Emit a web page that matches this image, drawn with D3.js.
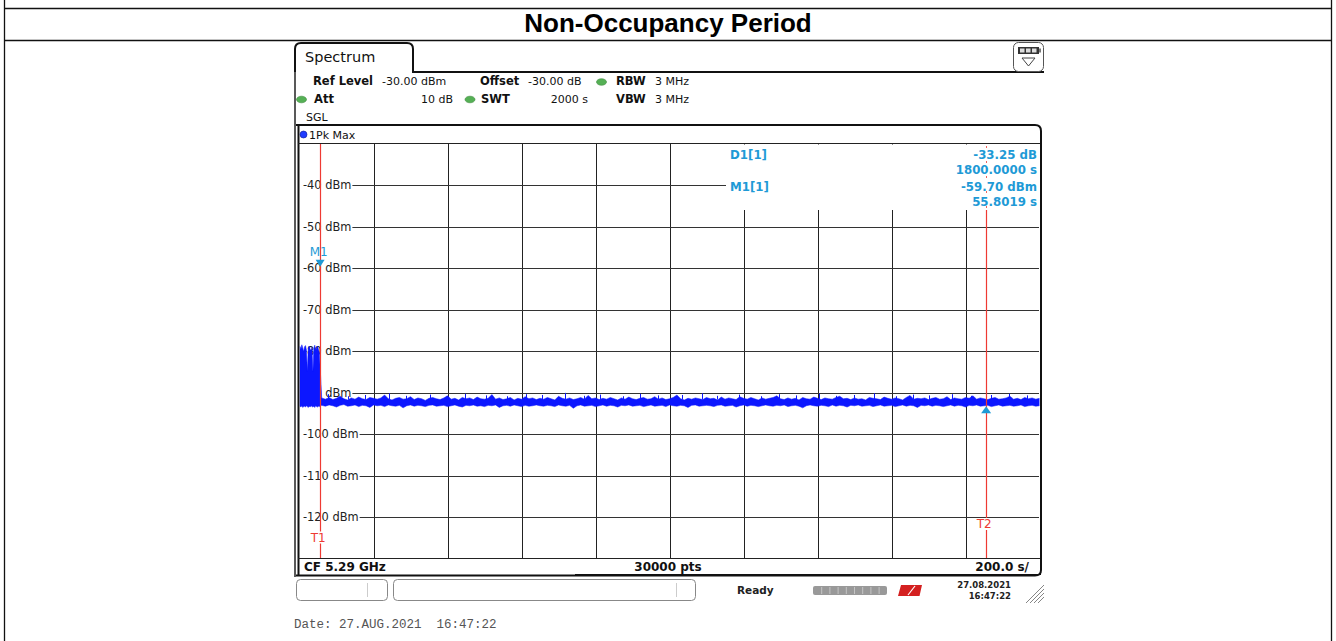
<!DOCTYPE html>
<html><head><meta charset="utf-8">
<script src="https://cdn.jsdelivr.net/npm/d3@7"></script>
<style>body{margin:0;background:#fff}svg{display:block}</style>
</head><body><svg id="c" width="1336" height="641"></svg>
<script>
// ---------- data ----------
const pageTitle = "Non-Occupancy Period";
const levelTicks = [-40,-50,-60,-70,-80,-90,-100,-110,-120];
const timeTicks = [200,400,600,800,1000,1200,1400,1600,1800];
const levelDomain = [-130,-30];
const timeDomain = [0,2000];
const headerRow1 = ["Ref Level","-30.00 dBm","Offset","-30.00 dB","RBW","3 MHz"];
const headerRow2 = ["Att","10 dB","SWT","2000 s","VBW","3 MHz"];
const footerTexts = ["CF 5.29 GHz","30000 pts","200.0 s/"];
const statusTexts = ["Ready","27.08.2021","16:47:22"];
const dateLine = "Date: 27.AUG.2021  16:47:22";
const markerM1 = [55.8019, -59.70];   // time s, level dBm
const deltaD1 = [1800, -33.25];       // delta time s, delta level dB
// trace envelope (max / min per bin), burst part in 2.5 s bins
const burstBin = 2.5;
const burstMax = [-78.9,-79.6,-78.5,-79.2,-80.1,-79.0,-78.7,-79.8,-84.9,-79.3,-78.8,-79.5,-80.0,-79.1,-85.0,-79.4,-78.6,-79.9,-79.2,-78.8,-79.6,-80.3];
const burstMin = [-93.3,-93.5,-93.2,-93.6,-93.4,-93.3,-93.5,-93.2,-93.4,-93.6,-93.3,-93.5,-93.2,-93.4,-93.5,-93.3,-93.6,-93.2,-93.4,-93.5,-93.3,-93.4];
// noise floor part in 10 s bins starting at 55 s
const floorStart = 55, floorBin = 10;
const floorMax = [
-91.3,-91.6,-91.2,-91.7,-91.4,-90.9,-91.5,-91.8,-91.3,-91.6,-91.1,-91.5,-91.7,-91.2,-91.4,
-91.6,-91.3,-90.6,-91.5,-91.8,-91.4,-91.2,-91.6,-91.5,-91.0,-91.7,-91.3,-91.5,-91.9,-91.4,
-91.2,-91.5,-91.7,-91.3,-90.8,-91.6,-91.4,-91.8,-91.2,-91.5,-91.3,-91.7,-91.1,-91.5,-91.6,
-91.4,-90.5,-91.6,-91.3,-91.7,-91.5,-91.2,-91.8,-91.4,-91.6,-91.0,-91.5,-91.3,-91.7,-91.4,
-91.6,-91.2,-91.5,-91.8,-90.9,-91.4,-91.6,-91.3,-91.7,-91.5,-91.2,-91.6,-90.7,-91.5,-91.3,
-91.7,-91.4,-91.6,-91.2,-91.5,-91.8,-91.3,-91.6,-91.1,-91.5,-91.7,-91.4,-91.2,-91.6,-91.5,
-91.0,-91.6,-91.3,-91.7,-91.5,-91.2,-90.6,-91.5,-91.8,-91.4,-91.6,-91.3,-91.5,-91.7,-91.2,
-91.5,-91.4,-91.8,-91.1,-91.6,-91.3,-91.5,-91.7,-91.0,-91.4,-91.6,-91.2,-91.5,-91.8,-91.3,
-91.6,-91.4,-91.2,-90.8,-91.5,-91.7,-91.3,-91.6,-91.4,-91.8,-91.2,-91.5,-91.6,-91.1,-91.4,
-91.7,-91.3,-91.5,-91.6,-91.2,-90.9,-91.5,-91.4,-91.7,-91.3,-91.6,-91.5,-91.8,-91.2,-91.4,
-91.5,-91.7,-91.1,-91.4,-91.6,-91.3,-91.5,-91.8,-91.2,-90.7,-91.6,-91.4,-91.5,-91.3,-91.7,
-91.4,-91.2,-91.6,-91.5,-91.0,-91.7,-91.3,-91.5,-91.6,-91.2,-91.4,-90.8,-91.6,-91.3,-91.5,
-91.7,-91.4,-91.2,-91.6,-91.5,-91.3,-90.9,-91.6,-91.4,-91.7,-91.2,-91.5,-91.3,-91.6,-91.4];
const floorMin = [
-93.1,-93.3,-93.0,-93.2,-93.5,-93.1,-92.9,-93.3,-93.2,-93.0,-93.4,-93.1,-93.2,-93.6,-93.0,
-93.2,-93.1,-93.4,-93.0,-93.2,-93.3,-93.1,-93.7,-93.2,-93.0,-93.3,-93.1,-93.2,-93.4,-93.1,
-93.0,-93.3,-93.2,-93.1,-93.4,-93.2,-93.0,-93.3,-93.5,-93.1,-93.2,-93.0,-93.3,-93.2,-93.4,
-93.1,-93.2,-93.0,-93.6,-93.2,-93.1,-93.3,-93.0,-93.2,-93.4,-93.1,-93.3,-93.2,-93.0,-93.2,
-93.3,-93.1,-93.2,-93.4,-93.0,-93.2,-93.3,-93.1,-93.8,-93.2,-93.0,-93.3,-93.2,-93.1,-93.4,
-93.2,-93.0,-93.3,-93.1,-93.2,-93.5,-93.1,-93.2,-93.0,-93.3,-93.2,-93.1,-93.4,-93.2,-93.0,
-93.3,-93.2,-93.1,-93.4,-93.0,-93.2,-93.3,-93.1,-93.2,-93.6,-93.1,-93.0,-93.3,-93.2,-93.1,
-93.2,-93.4,-93.1,-93.0,-93.3,-93.2,-93.1,-93.5,-93.2,-93.0,-93.3,-93.1,-93.2,-93.4,-93.2,
-93.0,-93.2,-93.3,-93.1,-93.2,-93.0,-93.4,-93.2,-93.1,-93.3,-93.7,-93.2,-93.0,-93.2,-93.3,
-93.1,-93.2,-93.4,-93.0,-93.3,-93.1,-93.2,-93.5,-93.1,-93.2,-93.0,-93.3,-93.2,-93.1,-93.4,
-93.2,-93.0,-93.3,-93.2,-93.1,-93.4,-93.2,-93.0,-93.3,-93.1,-93.2,-93.6,-93.1,-93.2,-93.0,
-93.3,-93.1,-93.2,-93.4,-93.2,-93.0,-93.3,-93.1,-93.2,-93.5,-93.1,-93.2,-93.0,-93.3,-93.2,
-93.1,-93.4,-93.2,-93.0,-93.3,-93.2,-93.1,-93.3,-93.2,-93.0,-93.4,-93.2,-93.1,-93.3,-93.2];
// thin single peaks above the noise band
const spikeTimes = [78,131,176,243,288,352,397,446,503,561,612,655,718,769,812,874,921,968,1033,1087,1129,1188,1246,1297,1342,1405,1451,1498,1553,1611,1657,1702,1764,1815,1870,1918,1967];
const spikeLevels = [-90.4,-90.9,-90.6,-90.2,-90.8,-90.5,-91.0,-90.3,-90.7,-90.9,-90.4,-90.6,-90.1,-90.8,-90.5,-90.9,-90.3,-90.7,-90.6,-90.2,-90.8,-90.5,-90.9,-90.4,-90.7,-90.3,-90.8,-90.6,-90.2,-90.9,-90.5,-90.7,-90.4,-90.8,-90.6,-90.3,-90.7];

// ---------- drawing ----------
const svg = d3.select("#c");
const F = "'DejaVu Sans', Verdana, sans-serif";
const markerBlue = "#1e9ad6", red = "#ee3a33", traceBlue = "#0c17ff";
const hy = s => s.replace(/\u2212/g,"-");

// page table borders
const tb = svg.append("g").attr("stroke","#111").attr("stroke-width",1.3);
tb.append("line").attr("x1",4.5).attr("x2",4.5).attr("y1",0).attr("y2",641);
tb.append("line").attr("x1",1331.5).attr("x2",1331.5).attr("y1",0).attr("y2",641);
tb.append("line").attr("x1",4).attr("x2",1332).attr("y1",8.5).attr("y2",8.5);
tb.append("line").attr("x1",4).attr("x2",1332).attr("y1",40.5).attr("y2",40.5);
svg.append("text").attr("x",668).attr("y",32).attr("text-anchor","middle")
  .attr("font-family","'Liberation Sans', Arial, sans-serif").attr("font-weight","bold")
  .attr("font-size",26).attr("fill","#000").text(pageTitle);

// instrument tab & frames
svg.append("path").attr("d","M295,72 V49 Q295,43 301,43 H407 Q413,43 413,49 V72 H1044")
  .attr("fill","none").attr("stroke","#111").attr("stroke-width",2);
svg.append("line").attr("x1",295).attr("x2",295).attr("y1",72).attr("y2",577).attr("stroke","#222").attr("stroke-width",1.5);
svg.append("text").attr("x",305).attr("y",62).attr("font-family",F).attr("font-size",14.5).attr("fill","#111").text("Spectrum");

// top-right icon
const ic = svg.append("g");
ic.append("rect").attr("x",1013.5).attr("y",42.5).attr("width",30).attr("height",29).attr("rx",5).attr("fill","#fff").attr("stroke","#555");
ic.append("rect").attr("x",1018).attr("y",47).attr("width",21).attr("height",7).attr("fill","#333");
[1020,1026,1032].forEach(x=>ic.append("rect").attr("x",x).attr("y",48.5).attr("width",4.5).attr("height",4).attr("fill","#ddd"));
ic.append("rect").attr("x",1039).attr("y",48.5).attr("width",2).attr("height",4).attr("fill","#777");
ic.append("path").attr("d","M1022,58 H1035 L1028.5,66 Z").attr("fill","none").attr("stroke","#444");

// header info
const hb = svg.append("g").attr("font-family",F).attr("fill","#111");
function green(x,y){ hb.append("ellipse").attr("cx",x).attr("cy",y).attr("rx",5).attr("ry",3.3).attr("fill","#55b055").attr("stroke","#3d8a3d").attr("stroke-width",0.6); }
function txt(x,y,s,bold,anchor){ hb.append("text").attr("x",x).attr("y",y).attr("font-size",bold?11.5:11)
  .attr("font-weight",bold?"bold":"normal").attr("text-anchor",anchor||"start").text(s); }
txt(313,85,headerRow1[0],true); txt(382,85,headerRow1[1]); txt(480,85,headerRow1[2],true);
txt(528,85,headerRow1[3]); green(601.5,82); txt(616,85,headerRow1[4],true); txt(655,85,headerRow1[5]);
green(301.5,99.5); txt(314,103,headerRow2[0],true); txt(453,103,headerRow2[1],false,"end"); green(470,99.5);
txt(481,103,headerRow2[2],true); txt(588,103,headerRow2[3],false,"end"); txt(616,103,headerRow2[4],true); txt(655,103,headerRow2[5]);
txt(306,121,"SGL");

// diagram frame
svg.append("path").attr("d","M296,125 H1035 Q1041,125 1041,131 V570 Q1041,575.5 1035,575.5 H296")
  .attr("fill","none").attr("stroke","#111").attr("stroke-width",2);
svg.append("line").attr("x1",298.5).attr("x2",298.5).attr("y1",125).attr("y2",576).attr("stroke","#111").attr("stroke-width",2);
svg.append("line").attr("x1",575).attr("x2",1041).attr("y1",574.5).attr("y2",574.5).attr("stroke","#111").attr("stroke-width",1);
svg.append("line").attr("x1",298).attr("x2",1040).attr("y1",143.5).attr("y2",143.5).attr("stroke","#222").attr("stroke-width",1.2);
svg.append("line").attr("x1",298).attr("x2",1040).attr("y1",558.5).attr("y2",558.5).attr("stroke","#222").attr("stroke-width",1.2);
svg.append("circle").attr("cx",303.5).attr("cy",134.5).attr("r",3.5).attr("fill","#1f3cff").attr("stroke","#0a1a90").attr("stroke-width",0.6);
svg.append("text").attr("x",309).attr("y",138.5).attr("font-family",F).attr("font-size",11).attr("fill","#111").text("1Pk Max");

// scales
const x = d3.scaleLinear().domain(timeDomain).range([299.5,1039.5]);
const y = d3.scaleLinear().domain(levelDomain).range([558.5,143.5]);
const px = v => Math.round(v)+0.5;

// grid
const grid = svg.append("g");
grid.selectAll("line.v").data(timeTicks).join("line").attr("class","v")
  .attr("x1",d=>px(x(d))).attr("x2",d=>px(x(d))).attr("y1",144).attr("y2",558)
  .attr("stroke","#222").attr("stroke-width",1);
const lab = grid.selectAll("g.h").data(levelTicks).join("g").attr("class","h");
lab.append("text").attr("x",303).attr("y",d=>y(d)).attr("dy","0.36em")
  .attr("font-family",F).attr("font-size",11.4).attr("fill","#222").text(d=>d+" dBm");
lab.each(function(d){
  const g = d3.select(this); const w = g.select("text").node().getComputedTextLength();
  g.append("line").attr("x1",303+w+1).attr("x2",1039).attr("y1",px(y(d))).attr("y2",px(y(d)))
    .attr("stroke","#333").attr("stroke-width",1);
});

// trace
const traceRows = [];
burstMax.forEach((v,i)=>traceRows.push({t:burstBin*(i+0.5),hi:v,lo:burstMin[i]}));
floorMax.forEach((v,i)=>traceRows.push({t:floorStart+floorBin*(i+0.5),hi:v,lo:floorMin[i]}));
svg.append("clipPath").attr("id","plot").append("rect").attr("x",299.5).attr("y",144).attr("width",740).attr("height",414);
const tr = svg.append("g").attr("clip-path","url(#plot)");
tr.append("path").datum(traceRows)
  .attr("d",d3.area().x(d=>x(d.t)).y0(d=>y(d.lo)).y1(d=>y(d.hi)))
  .attr("fill",traceBlue).attr("stroke",traceBlue).attr("stroke-width",0.5);
tr.selectAll("line.sp").data(spikeTimes).join("line").attr("class","sp")
  .attr("x1",d=>px(x(d))).attr("x2",d=>px(x(d))).attr("y1",y(-91.7)).attr("y2",(d,i)=>y(spikeLevels[i]))
  .attr("stroke",traceBlue).attr("stroke-width",1);

// markers
const t1 = markerM1[0], t2 = markerM1[0]+deltaD1[0];
const d1Level = markerM1[1]+deltaD1[1];
// marker info box
svg.append("rect").attr("x",726).attr("y",144.5).attr("width",313).attr("height",65.5).attr("fill","#fff");
// T lines
[t1,t2].forEach(t=>svg.append("line").attr("x1",px(x(t))).attr("x2",px(x(t))).attr("y1",210).attr("y2",558)
  .attr("stroke",red).attr("stroke-width",1.2));
svg.append("line").attr("x1",px(x(t1))).attr("x2",px(x(t1))).attr("y1",144).attr("y2",210).attr("stroke",red).attr("stroke-width",1.2);
svg.append("line").attr("x1",px(x(t2))).attr("x2",px(x(t2))).attr("y1",144).attr("y2",210)
  .attr("stroke",red).attr("stroke-width",1).attr("stroke-dasharray","2,13").attr("stroke-dashoffset",-17).attr("opacity",0.8);
function redLabel(t,cy,s){
  svg.append("rect").attr("x",x(t)-9).attr("y",cy-6).attr("width",17).attr("height",12).attr("fill","#fff");
  svg.append("text").attr("x",x(t)-2).attr("y",cy).attr("dy","0.36em").attr("text-anchor","middle")
    .attr("font-family",F).attr("font-size",12).attr("fill",red).text(s);
}
redLabel(t1,537.5,"T1"); redLabel(t2,524,"T2");
// M1 triangle
const m1x = x(t1), m1y = y(markerM1[1]);
svg.append("path").attr("d",`M${m1x-4.5},${m1y-7} H${m1x+4.5} L${m1x},${m1y} Z`).attr("fill",markerBlue);
svg.append("text").attr("x",m1x-1.5).attr("y",252).attr("dy","0.36em").attr("text-anchor","middle")
  .attr("font-family",F).attr("font-size",12).attr("fill",markerBlue).text("M1");
// D1 triangle
const d1x = x(t2), d1y = y(d1Level)+1.5;
svg.append("path").attr("d",`M${d1x-5},${d1y+7} H${d1x+5} L${d1x},${d1y} Z`).attr("fill",markerBlue);
// marker text
const mt = svg.append("g").attr("font-family",F).attr("font-weight","bold").attr("font-size",11.8).attr("fill",markerBlue);
const f2 = v => hy(d3.format(".2f")(v)), f4 = v => hy(d3.format(".4f")(v));
mt.append("text").attr("x",730).attr("y",155).attr("dy","0.36em").text("D1[1]");
mt.append("text").attr("x",730).attr("y",187).attr("dy","0.36em").text("M1[1]");
[[155,f2(deltaD1[1])+" dB"],[170,f4(deltaD1[0])+" s"],[187,f2(markerM1[1])+" dBm"],[202,f4(markerM1[0])+" s"]]
  .forEach(([yy,s])=>mt.append("text").attr("x",1037).attr("y",yy).attr("dy","0.36em").attr("text-anchor","end").text(s));

// footer line of diagram
const ft = svg.append("g").attr("font-family",F).attr("font-weight","bold").attr("font-size",12).attr("fill","#111");
ft.append("text").attr("x",304).attr("y",571).text(footerTexts[0]);
ft.append("text").attr("x",668).attr("y",571).attr("text-anchor","middle").text(footerTexts[1]);
ft.append("text").attr("x",1029).attr("y",571).attr("text-anchor","end").text(footerTexts[2]);

// status bar
const sb = svg.append("g");
sb.append("rect").attr("x",296.5).attr("y",579.5).attr("width",91).attr("height",21).attr("rx",4).attr("fill","#fff").attr("stroke","#888");
sb.append("rect").attr("x",393.5).attr("y",579.5).attr("width",302).attr("height",21).attr("rx",4).attr("fill","#fff").attr("stroke","#888");
sb.append("line").attr("x1",367.5).attr("x2",367.5).attr("y1",583).attr("y2",597).attr("stroke","#ccc");
sb.append("line").attr("x1",676.5).attr("x2",676.5).attr("y1",583).attr("y2",597).attr("stroke","#ccc");
sb.append("text").attr("x",737).attr("y",594).attr("font-family",F).attr("font-weight","bold").attr("font-size",10.5).attr("fill","#222").text(statusTexts[0]);
sb.append("rect").attr("x",813).attr("y",586).attr("width",74).attr("height",9).attr("rx",2).attr("fill","#999");
d3.range(1,9).forEach(i=>sb.append("line").attr("x1",813.5+i*8.2).attr("x2",813.5+i*8.2).attr("y1",587).attr("y2",594).attr("stroke","#c4c4c4"));
sb.append("path").attr("d","M901,585 H922 L919.5,596 H898 Z").attr("fill","#d42020");
sb.append("path").attr("d","M908,595 L915,586").attr("stroke","#fff").attr("stroke-width",1.2);
sb.append("text").attr("x",1011).attr("y",587.5).attr("text-anchor","end").attr("font-family",F).attr("font-weight","bold").attr("font-size",8.5).attr("fill","#222").text(statusTexts[1]);
sb.append("text").attr("x",1011).attr("y",598.5).attr("text-anchor","end").attr("font-family",F).attr("font-weight","bold").attr("font-size",8.5).attr("fill","#222").text(statusTexts[2]);
[[1026,603,1044,585],[1030,603,1044,589],[1034,603,1044,593],[1038,603,1044,597]].forEach(a=>
  sb.append("line").attr("x1",a[0]).attr("y1",a[1]).attr("x2",a[2]).attr("y2",a[3]).attr("stroke","#666").attr("stroke-width",0.8));

// date line
svg.append("text").attr("x",294).attr("y",628).attr("font-family","'Liberation Mono', 'Courier New', monospace")
  .attr("font-size",12.5).attr("fill","#555").style("white-space","pre").text(dateLine);
</script></body></html>
